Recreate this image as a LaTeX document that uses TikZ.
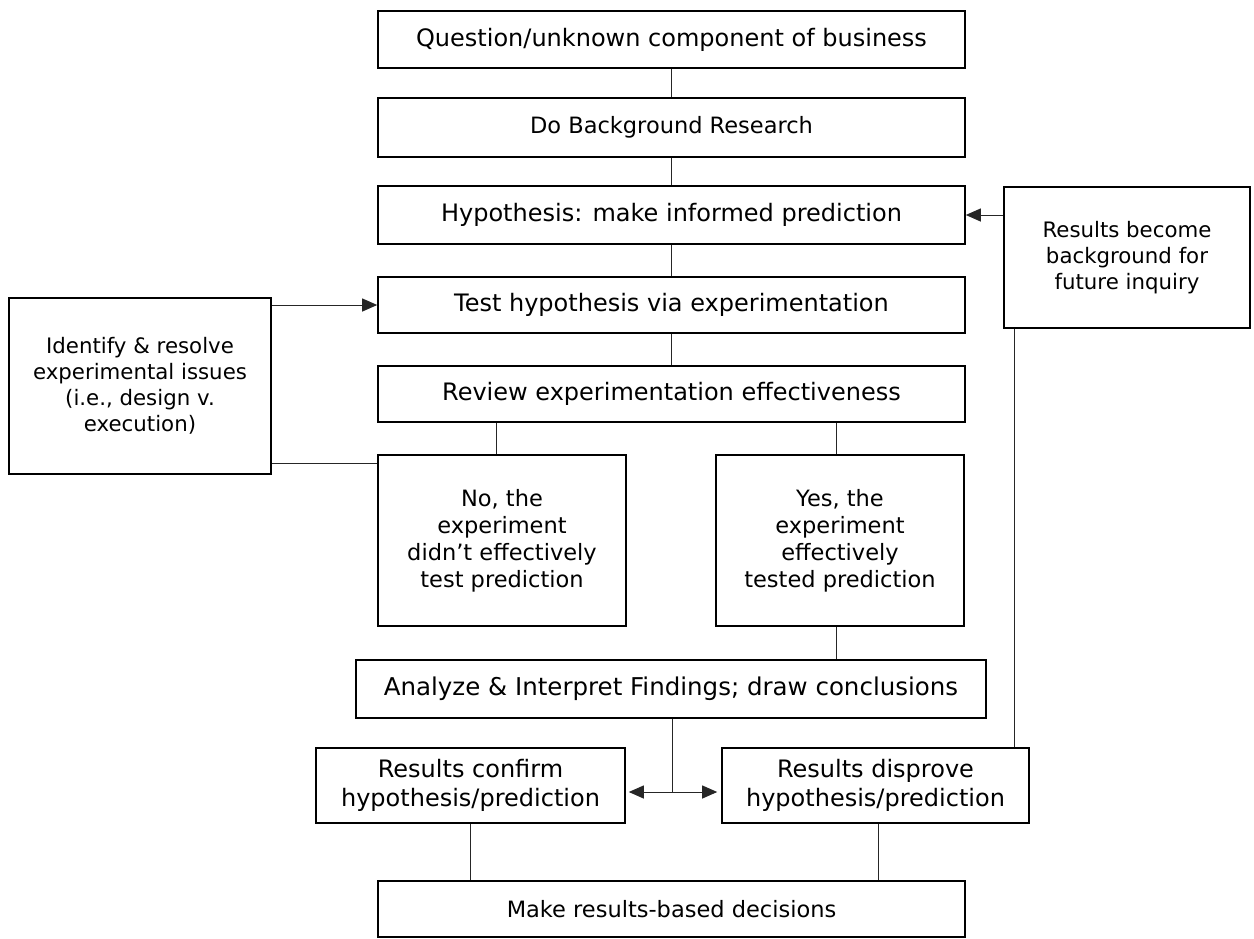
\documentclass[tikz,border=0pt]{standalone}
\usepackage{fontspec}
\setmainfont{DejaVu Sans}
\usetikzlibrary{arrows.meta}

\tikzset{
  box/.style={draw=black, line width=1.6pt, fill=white, align=center,
    inner sep=0pt, font=\fontsize{24}{28.5}\selectfont},
  midbox/.style={box, font=\fontsize{22.5}{27}\selectfont},
  smallbox/.style={box, font=\fontsize{21.3}{26}\selectfont},
  link/.style={draw=black!85, line width=1pt},
  tip/.style={-{Triangle[length=15pt,width=13pt]}},
  twotips/.style={{Triangle[length=15pt,width=13pt]}-{Triangle[length=15pt,width=13pt]}}
}

\begin{document}
\begin{tikzpicture}[x=1pt,y=-1pt]
\useasboundingbox (0,0) rectangle (1254,938);

% main column
\node[box, minimum width=587pt, minimum height=57pt] (q)   at (671.5,39.5) {Question/unknown component of business};
\node[midbox, minimum width=587pt, minimum height=59pt] (bg)  at (671.5,127.5) {Do Background Research};
\node[box, minimum width=587pt, minimum height=58pt] (hyp) at (671.5,215) {Hypothesis: make informed prediction};
\node[box, minimum width=587pt, minimum height=56pt] (tst) at (671.5,305) {Test hypothesis via experimentation};
\node[box, minimum width=587pt, minimum height=56pt] (rev) at (671.5,394) {Review experimentation effectiveness};

% outcome of the review
\node[midbox, minimum width=248pt, minimum height=171pt] (no)  at (502,540.5) {No, the\\experiment\\didn’t effectively\\test prediction};
\node[midbox, minimum width=248pt, minimum height=171pt] (yes) at (840,540.5) {Yes, the\\experiment\\effectively\\tested prediction};

\node[box, minimum width=630pt, minimum height=58pt, font=\fontsize{24.5}{29}\selectfont] (ana) at (671,689) {Analyze \& Interpret Findings; draw conclusions};

\node[box, minimum width=309pt, minimum height=75pt] (conf) at (470.5,785.5) {Results confirm\\hypothesis/prediction};
\node[box, minimum width=307pt, minimum height=75pt] (disp) at (875.5,785.5) {Results disprove\\hypothesis/prediction};

\node[midbox, minimum width=587pt, minimum height=56pt] (dec) at (671.5,909) {Make results-based decisions};

% side boxes
\node[smallbox, minimum width=262pt, minimum height=176pt] (iss) at (140,386) {Identify \& resolve\\experimental issues\\(i.e., design v.\\execution)};
\node[smallbox, minimum width=246pt, minimum height=141pt] (fut) at (1127,257.5) {Results become\\background for\\future inquiry};

% tap points for the connectors
\coordinate (noTap)  at (496,0);
\coordinate (yesTap) at (836,0);
\coordinate (split)  at (672,792);
\coordinate (futTap) at (1014,0);
\coordinate (lowTap) at (0,463);
\coordinate (conTap) at (470,0);
\coordinate (disTap) at (878,0);

% straight chain
\draw[link] (q.south) -- (bg.north);
\draw[link] (bg.south) -- (hyp.north);
\draw[link] (hyp.south) -- (tst.north);
\draw[link] (tst.south) -- (rev.north);
\draw[link] (noTap |- rev.south) -- (noTap |- no.north);
\draw[link] (yesTap |- rev.south) -- (yesTap |- yes.north);
\draw[link] (yesTap |- yes.south) -- (yesTap |- ana.north);

% analysis branches to both results
\draw[link] (split |- ana.south) -- (split);
\draw[link, twotips, shorten <=3pt, shorten >=4pt] (conf.east |- split) -- (disp.west |- split);

% results to decisions
\draw[link] (conTap |- conf.south) -- (conTap |- dec.north);
\draw[link] (disTap |- disp.south) -- (disTap |- dec.north);

% feedback loops
\draw[link, tip] (iss.east |- tst.west) -- (tst.west);
\draw[link] (iss.east |- lowTap) -- (no.west |- lowTap);
\draw[link, tip] (fut.west |- hyp.east) -- (hyp.east);
\draw[link] (futTap |- fut.south) -- (futTap |- disp.north);
\end{tikzpicture}
\end{document}
